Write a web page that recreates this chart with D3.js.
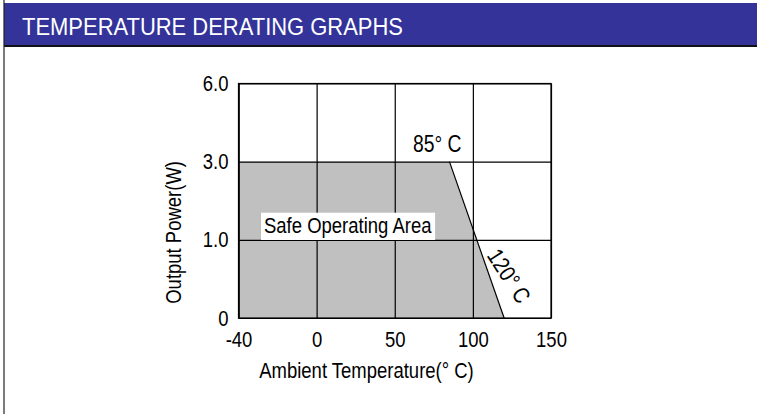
<!DOCTYPE html>
<html>
<head>
<meta charset="utf-8">
<script src="https://cdn.jsdelivr.net/npm/d3@7/dist/d3.min.js"></script>
<style>
  html, body { margin: 0; padding: 0; background: #fff; }
  svg { display: block; }
  text { font-family: "Liberation Sans Narrow", "Arial Narrow", "Liberation Sans", Arial, sans-serif; }
</style>
</head>
<body>
<svg id="chart" width="757" height="414"></svg>
<script>
// ---- data ----
const title = "TEMPERATURE DERATING GRAPHS";
const xTicks = [-40, 0, 50, 100, 150];
const xTickLabels = ["-40", "0", "50", "100", "150"];
const yTicks = [0, 1.0, 3.0, 6.0];
const yTickLabels = ["0", "1.0", "3.0", "6.0"];
const tempC = [-40, 85, 120];     // ambient temperature (°C)
const powerW = [3.0, 3.0, 0];     // output power (W)
const xTitle = "Ambient Temperature(° C)";
const yTitle = "Output Power(W)";
const areaLabel = "Safe Operating Area";
const kneeLabel = "85° C";
const endLabel = "120° C";

// ---- layout ----
const W = 757, H = 414;
const plot = { left: 238.5, right: 551, top: 83.5, bottom: 318 };
const FS = 22, SQ = 0.84;   // label font size and horizontal condensation
const svg = d3.select("#chart");

function condense(sel, f) {
  sel.each(function () {
    const len = this.getComputedTextLength();
    d3.select(this).attr("textLength", len * f).attr("lengthAdjust", "spacingAndGlyphs");
  });
  return sel;
}

// page frame: left rule and header band
svg.append("rect").attr("x", 4).attr("y", 3).attr("width", W - 4).attr("height", 42).attr("fill", "#333399");
svg.append("rect").attr("x", 4).attr("y", 45).attr("width", W - 4).attr("height", 2).attr("fill", "#111");
svg.append("line").attr("x1", 4).attr("x2", 4).attr("y1", 0).attr("y2", H)
  .attr("stroke", "#222").attr("stroke-width", 1.2);
svg.append("text").attr("x", 22).attr("y", 34.5).attr("fill", "#fff")
  .attr("font-size", 24.5).attr("textLength", 381).attr("lengthAdjust", "spacingAndGlyphs").text(title);

// ---- scales (equally spaced ticks, piecewise linear) ----
const xStep = (plot.right - plot.left) / (xTicks.length - 1);
const x = d3.scaleLinear().domain(xTicks).range(xTicks.map((d, i) => plot.left + i * xStep));
const yStep = (plot.bottom - plot.top) / (yTicks.length - 1);
const y = d3.scaleLinear().domain(yTicks).range(yTicks.map((d, i) => plot.bottom - i * yStep));

const g = svg.append("g");
const curve = tempC.map((t, i) => [t, powerW[i]]);

// safe operating area
const pts = [[tempC[0], 0]].concat(curve);
g.append("path")
  .attr("d", d3.line().x(d => x(d[0])).y(d => y(d[1]))(pts) + "Z")
  .attr("fill", "#c0c0c0").attr("stroke", "none");

// grid via axes
const xAxis = d3.axisBottom(x).tickValues(xTicks).tickFormat((d, i) => xTickLabels[i])
  .tickSizeInner(-(plot.bottom - plot.top)).tickSizeOuter(0).tickPadding(13.5);
const gx = g.append("g").attr("transform", `translate(0,${plot.bottom})`).call(xAxis);
const yAxis = d3.axisLeft(y).tickValues(yTicks).tickFormat((d, i) => yTickLabels[i])
  .tickSizeInner(-(plot.right - plot.left)).tickSizeOuter(0).tickPadding(10);
const gy = g.append("g").attr("transform", `translate(${plot.left},0)`).call(yAxis);
[gx, gy].forEach(a => {
  a.selectAll("line").attr("stroke", "#000").attr("stroke-width", 1.2);
  a.select(".domain").attr("stroke", "#000").attr("stroke-width", 1.2);
  const t = a.selectAll("text").attr("font-size", FS).attr("fill", "#000")
    .style("font-family", '"Liberation Sans Narrow", "Arial Narrow", "Liberation Sans", Arial, sans-serif');
  condense(t, SQ);
});
g.append("rect").attr("x", plot.left).attr("y", plot.top)
  .attr("width", plot.right - plot.left).attr("height", plot.bottom - plot.top)
  .attr("fill", "none").attr("stroke", "#000").attr("stroke-width", 1.2);

// derating line (from knee to zero)
g.append("path")
  .attr("d", d3.line().x(d => x(d[0])).y(d => y(d[1]))(curve.slice(1)))
  .attr("stroke", "#000").attr("stroke-width", 1.2).attr("fill", "none");

// annotations
const lab = g.append("g");
const at = lab.append("text").attr("x", 264).attr("y", 233.3).attr("font-size", FS).text(areaLabel);
condense(at, SQ);
const bb = at.node().getBBox();
lab.insert("rect", "text").attr("x", bb.x - 3).attr("y", 212.7)
  .attr("width", bb.width + 6).attr("height", 27.3).attr("fill", "#fff");

condense(g.append("text").attr("x", 413).attr("y", 151.7).attr("font-size", FS + 1).text(kneeLabel), SQ);
condense(g.append("text").attr("transform", "translate(509,276) rotate(57)")
  .attr("text-anchor", "middle").attr("dominant-baseline", "central")
  .attr("font-size", FS + 1).text(endLabel), SQ);

// axis titles
condense(svg.append("text").attr("x", 366.5).attr("y", 378).attr("text-anchor", "middle")
  .attr("font-size", FS).text(xTitle), SQ);
condense(svg.append("text").attr("transform", "translate(181,232.4) rotate(-90)")
  .attr("text-anchor", "middle").attr("font-size", FS).text(yTitle), SQ);
</script>
</body>
</html>
